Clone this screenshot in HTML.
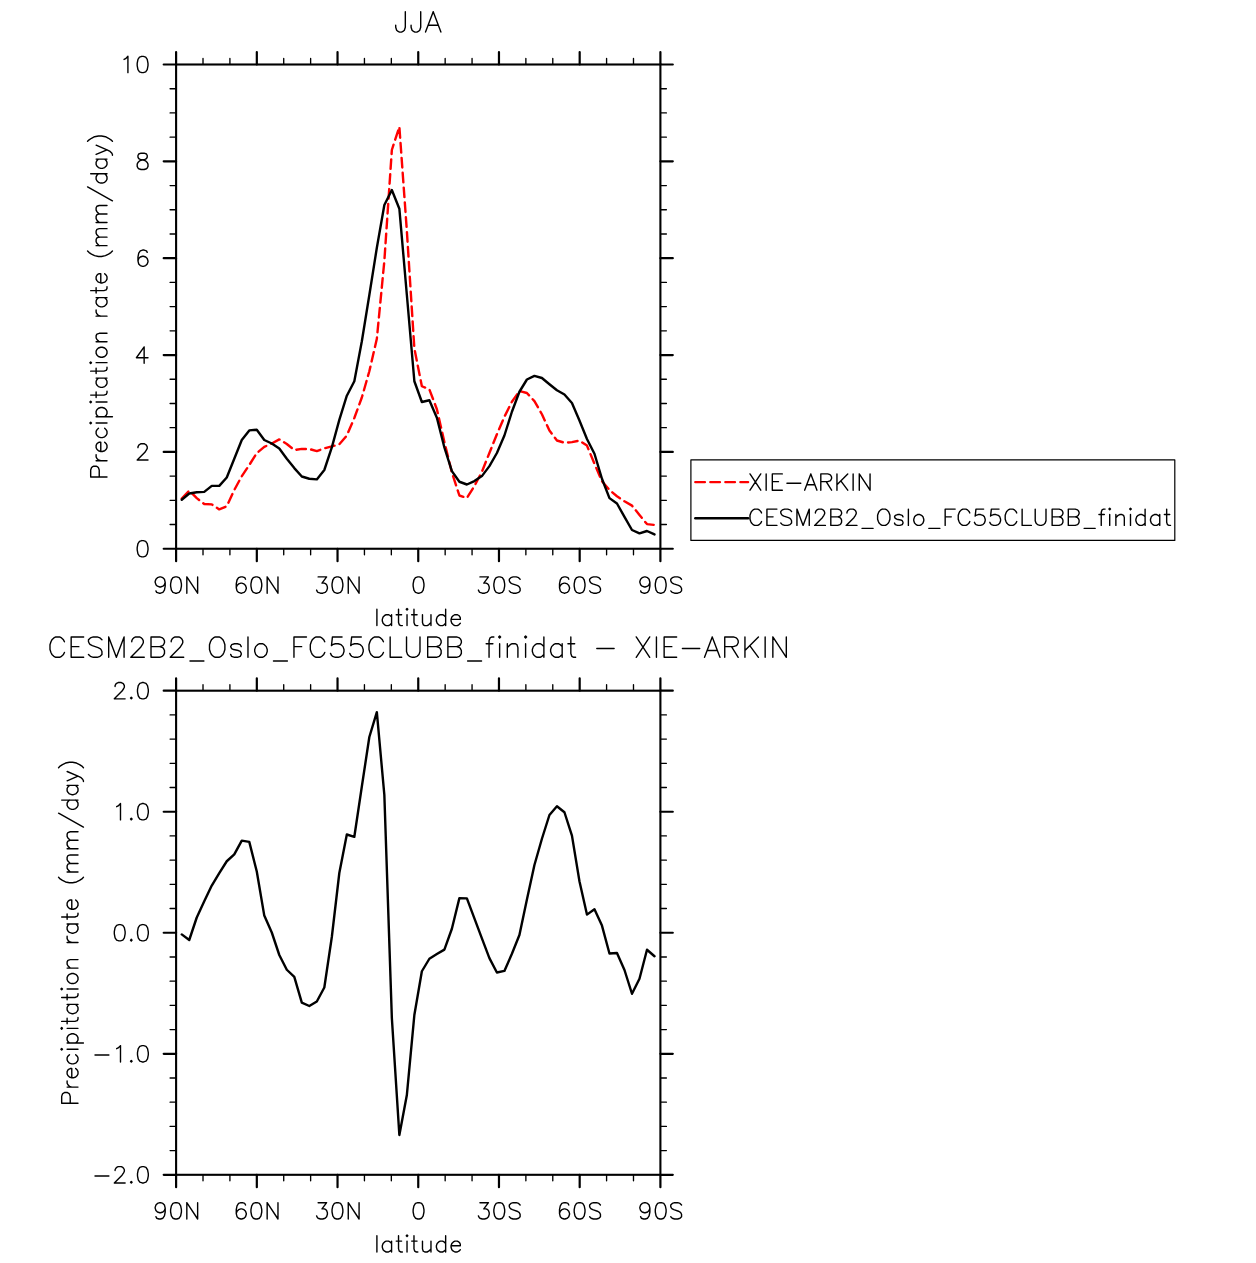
<!DOCTYPE html><html><head><meta charset="utf-8"><title>JJA</title><style>html,body{margin:0;padding:0;background:#fff;font-family:"Liberation Sans",sans-serif}svg{display:block}text{font-family:"Liberation Sans",sans-serif}.t{fill:none;stroke:#000;stroke-linecap:round;stroke-linejoin:round}</style></head><body>
<svg width="1256" height="1263" viewBox="0 0 1256 1263">
<rect width="1256" height="1263" fill="#fff"/>
<path d="M203.01 64.00V58.50M203.01 549.25V554.75M229.91 64.00V58.50M229.91 549.25V554.75M283.72 64.00V58.50M283.72 549.25V554.75M310.63 64.00V58.50M310.63 549.25V554.75M364.44 64.00V58.50M364.44 549.25V554.75M391.34 64.00V58.50M391.34 549.25V554.75M445.16 64.00V58.50M445.16 549.25V554.75M472.06 64.00V58.50M472.06 549.25V554.75M525.87 64.00V58.50M525.87 549.25V554.75M552.78 64.00V58.50M552.78 549.25V554.75M606.59 64.00V58.50M606.59 549.25V554.75M633.49 64.00V58.50M633.49 549.25V554.75M175.60 524.54H170.10M660.90 524.54H666.40M175.60 500.32H170.10M660.90 500.32H666.40M175.60 476.11H170.10M660.90 476.11H666.40M175.60 427.69H170.10M660.90 427.69H666.40M175.60 403.48H170.10M660.90 403.48H666.40M175.60 379.26H170.10M660.90 379.26H666.40M175.60 330.84H170.10M660.90 330.84H666.40M175.60 306.62H170.10M660.90 306.62H666.40M175.60 282.41H170.10M660.90 282.41H666.40M175.60 233.99H170.10M660.90 233.99H666.40M175.60 209.78H170.10M660.90 209.78H666.40M175.60 185.56H170.10M660.90 185.56H666.40M175.60 137.14H170.10M660.90 137.14H666.40M175.60 112.93H170.10M660.90 112.93H666.40M175.60 88.71H170.10M660.90 88.71H666.40" stroke="#000" stroke-width="1.35" stroke-linecap="round" fill="none"/>
<path d="M176.10 64.50V52.10M176.10 548.75V561.15M256.82 64.50V52.10M256.82 548.75V561.15M337.53 64.50V52.10M337.53 548.75V561.15M418.25 64.50V52.10M418.25 548.75V561.15M498.97 64.50V52.10M498.97 548.75V561.15M579.68 64.50V52.10M579.68 548.75V561.15M660.40 64.50V52.10M660.40 548.75V561.15M176.10 548.75H163.70M660.40 548.75H672.80M176.10 451.90H163.70M660.40 451.90H672.80M176.10 355.05H163.70M660.40 355.05H672.80M176.10 258.20H163.70M660.40 258.20H672.80M176.10 161.35H163.70M660.40 161.35H672.80M176.10 64.50H163.70M660.40 64.50H672.80" stroke="#000" stroke-width="2.2" stroke-linecap="round" fill="none"/>
<rect x="176.10" y="64.50" width="484.30" height="484.25" fill="none" stroke="#000" stroke-width="2.1"/>
<path d="M203.01 690.20V684.70M203.01 1175.30V1180.80M229.91 690.20V684.70M229.91 1175.30V1180.80M283.72 690.20V684.70M283.72 1175.30V1180.80M310.63 690.20V684.70M310.63 1175.30V1180.80M364.44 690.20V684.70M364.44 1175.30V1180.80M391.34 690.20V684.70M391.34 1175.30V1180.80M445.16 690.20V684.70M445.16 1175.30V1180.80M472.06 690.20V684.70M472.06 1175.30V1180.80M525.87 690.20V684.70M525.87 1175.30V1180.80M552.78 690.20V684.70M552.78 1175.30V1180.80M606.59 690.20V684.70M606.59 1175.30V1180.80M633.49 690.20V684.70M633.49 1175.30V1180.80M175.60 1150.60H170.10M660.90 1150.60H666.40M175.60 1126.39H170.10M660.90 1126.39H666.40M175.60 1102.18H170.10M660.90 1102.18H666.40M175.60 1077.98H170.10M660.90 1077.98H666.40M175.60 1029.57H170.10M660.90 1029.57H666.40M175.60 1005.37H170.10M660.90 1005.37H666.40M175.60 981.16H170.10M660.90 981.16H666.40M175.60 956.95H170.10M660.90 956.95H666.40M175.60 908.54H170.10M660.90 908.54H666.40M175.60 884.34H170.10M660.90 884.34H666.40M175.60 860.13H170.10M660.90 860.13H666.40M175.60 835.93H170.10M660.90 835.93H666.40M175.60 787.52H170.10M660.90 787.52H666.40M175.60 763.32H170.10M660.90 763.32H666.40M175.60 739.11H170.10M660.90 739.11H666.40M175.60 714.90H170.10M660.90 714.90H666.40" stroke="#000" stroke-width="1.35" stroke-linecap="round" fill="none"/>
<path d="M176.10 690.70V678.30M176.10 1174.80V1187.20M256.82 690.70V678.30M256.82 1174.80V1187.20M337.53 690.70V678.30M337.53 1174.80V1187.20M418.25 690.70V678.30M418.25 1174.80V1187.20M498.97 690.70V678.30M498.97 1174.80V1187.20M579.68 690.70V678.30M579.68 1174.80V1187.20M660.40 690.70V678.30M660.40 1174.80V1187.20M176.10 1174.80H163.70M660.40 1174.80H672.80M176.10 1053.78H163.70M660.40 1053.78H672.80M176.10 932.75H163.70M660.40 932.75H672.80M176.10 811.73H163.70M660.40 811.73H672.80M176.10 690.70H163.70M660.40 690.70H672.80" stroke="#000" stroke-width="2.2" stroke-linecap="round" fill="none"/>
<rect x="176.10" y="690.70" width="484.30" height="484.10" fill="none" stroke="#000" stroke-width="2.1"/>
<polyline points="181.74,498.50 189.24,490.60 196.75,498.10 204.25,504.00 211.76,504.40 219.26,509.40 226.76,506.25 234.27,490.00 241.77,476.25 249.28,465.00 256.78,453.10 264.28,446.90 271.79,443.50 279.29,439.40 286.80,444.00 294.30,450.00 301.80,448.90 309.31,449.00 316.81,451.10 324.32,448.30 331.82,446.40 339.32,444.25 346.83,435.50 354.33,418.00 361.84,397.50 369.34,371.25 376.84,338.75 384.35,261.00 391.85,150.00 399.36,126.80 406.86,231.00 414.36,348.50 421.87,386.25 429.37,389.40 436.88,409.20 444.38,442.00 451.88,472.50 459.39,495.50 466.89,498.00 474.40,486.00 481.90,471.75 489.40,453.00 496.91,434.25 504.41,416.75 511.92,401.75 519.42,391.10 526.92,393.00 534.43,401.10 541.93,414.25 549.44,430.50 556.94,440.50 564.44,442.75 571.95,442.10 579.45,440.60 586.96,445.60 594.46,463.75 601.96,481.25 609.47,490.00 616.97,496.25 624.48,501.25 631.98,505.60 639.48,515.00 646.99,524.10 654.49,525.00" fill="none" stroke="#f00" stroke-width="2.4" stroke-dasharray="9.6 5.3" stroke-dashoffset="0" stroke-linecap="round" stroke-linejoin="round"/>
<polyline points="181.74,499.75 189.24,493.50 196.75,492.25 204.25,491.90 211.76,485.90 219.26,485.90 226.76,477.50 234.27,458.75 241.77,440.00 249.28,430.40 256.78,429.75 264.28,440.00 271.79,443.50 279.29,448.50 286.80,458.75 294.30,468.10 301.80,476.50 309.31,478.75 316.81,479.40 324.32,470.00 331.82,447.40 339.32,419.90 346.83,395.70 354.33,381.25 361.84,341.25 369.34,295.00 376.84,247.80 384.35,205.00 391.85,190.00 399.36,208.75 406.86,295.00 414.36,381.25 421.87,402.00 429.37,400.25 436.88,417.70 444.38,447.50 451.88,471.10 459.39,481.75 466.89,484.50 474.40,481.10 481.90,476.10 489.40,466.10 496.91,453.00 504.41,435.50 511.92,411.75 519.42,391.75 526.92,379.50 534.43,375.90 541.93,378.00 549.44,384.25 556.94,390.25 564.44,394.50 571.95,403.00 579.45,420.50 586.96,439.00 594.46,453.75 601.96,478.75 609.47,498.10 616.97,503.50 624.48,516.90 631.98,530.00 639.48,533.40 646.99,531.00 654.49,534.40" fill="none" stroke="#000" stroke-width="2.4" stroke-linejoin="round" stroke-linecap="round"/>
<polyline points="181.74,934.40 189.24,940.00 196.75,917.50 204.25,901.25 211.76,885.60 219.26,873.10 226.76,861.25 234.27,854.40 241.77,840.60 249.28,841.90 256.78,871.50 264.28,915.60 271.79,932.50 279.29,955.00 286.80,969.75 294.30,976.80 301.80,1002.70 309.31,1006.00 316.81,1001.50 324.32,987.50 331.82,937.00 339.32,873.00 346.83,834.50 354.33,836.80 361.84,786.50 369.34,737.00 376.84,712.20 384.35,795.00 391.85,1018.00 399.36,1135.00 406.86,1095.00 414.36,1015.00 421.87,971.25 429.37,958.75 436.88,954.10 444.38,949.60 451.88,928.75 459.39,898.10 466.89,898.40 474.40,918.40 481.90,938.40 489.40,958.10 496.91,972.50 504.41,970.90 511.92,953.75 519.42,935.00 526.92,899.40 534.43,865.00 541.93,838.75 549.44,815.00 556.94,806.25 564.44,812.25 571.95,835.60 579.45,881.25 586.96,914.60 594.46,909.20 601.96,925.60 609.47,953.50 616.97,953.00 624.48,970.00 631.98,993.75 639.48,978.75 646.99,949.75 654.49,956.25" fill="none" stroke="#000" stroke-width="2.4" stroke-linejoin="round" stroke-linecap="round"/>
<rect x="690.9" y="459.8" width="483.9" height="80.6" fill="none" stroke="#000" stroke-width="1.2" stroke-linejoin="round"/>
<path d="M695.3 482.1H748.1" stroke="#f00" stroke-width="2.4" stroke-dasharray="9.6 5.43" stroke-linecap="round" fill="none"/>
<path d="M695.3 518.2H748.1" stroke="#000" stroke-width="2.4" stroke-linecap="round" fill="none"/>
<path class="t" d="M405.32 11.73L405.32 27.25L404.36 30.16L403.40 31.13L401.47 32.10L399.55 32.10L397.62 31.13L396.66 30.16L395.70 27.25L395.70 25.31M420.71 11.73L420.71 27.25L419.75 30.16L418.79 31.13L416.86 32.10L414.94 32.10L413.02 31.13L412.05 30.16L411.09 27.25L411.09 25.31M433.22 11.73L425.52 32.10M433.22 11.73L440.91 32.10M428.41 25.31L438.03 25.31" stroke-width="1.4"/>
<path class="t" d="M64.43 641.78L63.47 639.84L61.54 637.90L59.62 636.93L55.77 636.93L53.85 637.90L51.92 639.84L50.96 641.78L50.00 644.69L50.00 649.54L50.96 652.45L51.92 654.39L53.85 656.33L55.77 657.30L59.62 657.30L61.54 656.33L63.47 654.39L64.43 652.45M71.16 636.93L71.16 657.30M71.16 636.93L83.67 636.93M71.16 646.63L78.86 646.63M71.16 657.30L83.67 657.30M101.95 639.84L100.02 637.90L97.14 636.93L93.29 636.93L90.40 637.90L88.48 639.84L88.48 641.78L89.44 643.72L90.40 644.69L92.33 645.66L98.10 647.60L100.02 648.57L100.99 649.54L101.95 651.48L101.95 654.39L100.02 656.33L97.14 657.30L93.29 657.30L90.40 656.33L88.48 654.39M108.68 636.93L108.68 657.30M108.68 636.93L116.38 657.30M124.07 636.93L116.38 657.30M124.07 636.93L124.07 657.30M131.77 641.78L131.77 640.81L132.73 638.87L133.69 637.90L135.62 636.93L139.47 636.93L141.39 637.90L142.35 638.87L143.31 640.81L143.31 642.75L142.35 644.69L140.43 647.60L130.81 657.30L144.28 657.30M151.01 636.93L151.01 657.30M151.01 636.93L159.67 636.93L162.55 637.90L163.52 638.87L164.48 640.81L164.48 642.75L163.52 644.69L162.55 645.66L159.67 646.63M151.01 646.63L159.67 646.63L162.55 647.60L163.52 648.57L164.48 650.51L164.48 653.42L163.52 655.36L162.55 656.33L159.67 657.30L151.01 657.30M171.21 641.78L171.21 640.81L172.17 638.87L173.14 637.90L175.06 636.93L178.91 636.93L180.83 637.90L181.79 638.87L182.76 640.81L182.76 642.75L181.79 644.69L179.87 647.60L170.25 657.30L183.72 657.30M189.97 660.99L203.92 660.99M215.27 636.93L213.35 637.90L211.42 639.84L210.46 641.78L209.50 644.69L209.50 649.54L210.46 652.45L211.42 654.39L213.35 656.33L215.27 657.30L219.12 657.30L221.04 656.33L222.97 654.39L223.93 652.45L224.89 649.54L224.89 644.69L223.93 641.78L222.97 639.84L221.04 637.90L219.12 636.93L215.27 636.93M241.25 646.63L240.28 644.69L237.40 643.72L234.51 643.72L231.63 644.69L230.66 646.63L231.63 648.57L233.55 649.54L238.36 650.51L240.28 651.48L241.25 653.42L241.25 654.39L240.28 656.33L237.40 657.30L234.51 657.30L231.63 656.33L230.66 654.39M247.98 636.93L247.98 657.30M259.52 643.72L257.60 644.69L255.68 646.63L254.71 649.54L254.71 651.48L255.68 654.39L257.60 656.33L259.52 657.30L262.41 657.30L264.33 656.33L266.26 654.39L267.22 651.48L267.22 649.54L266.26 646.63L264.33 644.69L262.41 643.72L259.52 643.72M273.47 660.99L287.42 660.99M293.96 636.93L293.96 657.30M293.96 636.93L306.47 636.93M293.96 646.63L301.66 646.63M324.75 641.78L323.79 639.84L321.86 637.90L319.94 636.93L316.09 636.93L314.17 637.90L312.24 639.84L311.28 641.78L310.32 644.69L310.32 649.54L311.28 652.45L312.24 654.39L314.17 656.33L316.09 657.30L319.94 657.30L321.86 656.33L323.79 654.39L324.75 652.45M342.06 636.93L332.44 636.93L331.48 645.66L332.44 644.69L335.33 643.72L338.22 643.72L341.10 644.69L343.03 646.63L343.99 649.54L343.99 651.48L343.03 654.39L341.10 656.33L338.22 657.30L335.33 657.30L332.44 656.33L331.48 655.36L330.52 653.42M361.30 636.93L351.68 636.93L350.72 645.66L351.68 644.69L354.57 643.72L357.46 643.72L360.34 644.69L362.27 646.63L363.23 649.54L363.23 651.48L362.27 654.39L360.34 656.33L357.46 657.30L354.57 657.30L351.68 656.33L350.72 655.36L349.76 653.42M383.43 641.78L382.47 639.84L380.54 637.90L378.62 636.93L374.77 636.93L372.85 637.90L370.92 639.84L369.96 641.78L369.00 644.69L369.00 649.54L369.96 652.45L370.92 654.39L372.85 656.33L374.77 657.30L378.62 657.30L380.54 656.33L382.47 654.39L383.43 652.45M390.16 636.93L390.16 657.30M390.16 657.30L401.71 657.30M406.52 636.93L406.52 651.48L407.48 654.39L409.40 656.33L412.29 657.30L414.21 657.30L417.10 656.33L419.02 654.39L419.99 651.48L419.99 636.93M427.68 636.93L427.68 657.30M427.68 636.93L436.34 636.93L439.23 637.90L440.19 638.87L441.15 640.81L441.15 642.75L440.19 644.69L439.23 645.66L436.34 646.63M427.68 646.63L436.34 646.63L439.23 647.60L440.19 648.57L441.15 650.51L441.15 653.42L440.19 655.36L439.23 656.33L436.34 657.30L427.68 657.30M447.88 636.93L447.88 657.30M447.88 636.93L456.54 636.93L459.43 637.90L460.39 638.87L461.35 640.81L461.35 642.75L460.39 644.69L459.43 645.66L456.54 646.63M447.88 646.63L456.54 646.63L459.43 647.60L460.39 648.57L461.35 650.51L461.35 653.42L460.39 655.36L459.43 656.33L456.54 657.30L447.88 657.30M467.60 660.99L481.55 660.99M493.87 636.93L491.94 636.93L490.02 637.90L489.06 640.81L489.06 657.30M486.17 643.72L492.90 643.72M498.68 636.93L499.64 637.90L500.60 636.93L499.64 635.96L498.68 636.93M499.64 643.72L499.64 657.30M507.33 643.72L507.33 657.30M507.33 647.60L510.22 644.69L512.14 643.72L515.03 643.72L516.95 644.69L517.92 647.60L517.92 657.30M524.65 636.93L525.61 637.90L526.57 636.93L525.61 635.96L524.65 636.93M525.61 643.72L525.61 657.30M543.89 636.93L543.89 657.30M543.89 646.63L541.97 644.69L540.04 643.72L537.16 643.72L535.23 644.69L533.31 646.63L532.35 649.54L532.35 651.48L533.31 654.39L535.23 656.33L537.16 657.30L540.04 657.30L541.97 656.33L543.89 654.39M562.17 643.72L562.17 657.30M562.17 646.63L560.24 644.69L558.32 643.72L555.43 643.72L553.51 644.69L551.59 646.63L550.62 649.54L550.62 651.48L551.59 654.39L553.51 656.33L555.43 657.30L558.32 657.30L560.24 656.33L562.17 654.39M570.83 636.93L570.83 653.42L571.79 656.33L573.71 657.30L575.64 657.30M567.94 643.72L574.67 643.72M596.80 648.57L614.12 648.57M636.24 636.93L649.71 657.30M649.71 636.93L636.24 657.30M656.44 636.93L656.44 657.30M664.14 636.93L664.14 657.30M664.14 636.93L676.65 636.93M664.14 646.63L671.84 646.63M664.14 657.30L676.65 657.30M682.42 648.57L699.73 648.57M712.24 636.93L704.54 657.30M712.24 636.93L719.94 657.30M707.43 650.51L717.05 650.51M724.75 636.93L724.75 657.30M724.75 636.93L733.40 636.93L736.29 637.90L737.25 638.87L738.21 640.81L738.21 642.75L737.25 644.69L736.29 645.66L733.40 646.63L724.75 646.63M731.48 646.63L738.21 657.30M744.95 636.93L744.95 657.30M758.42 636.93L744.95 650.51M749.76 645.66L758.42 657.30M765.15 636.93L765.15 657.30M772.85 636.93L772.85 657.30M772.85 636.93L786.31 657.30M786.31 636.93L786.31 657.30" stroke-width="1.4"/>
<path class="t" d="M750.00 473.90L760.77 490.20M760.77 473.90L750.00 490.20M766.16 473.90L766.16 490.20M772.32 473.90L772.32 490.20M772.32 473.90L782.32 473.90M772.32 481.66L778.48 481.66M772.32 490.20L782.32 490.20M786.94 483.22L800.79 483.22M810.80 473.90L804.64 490.20M810.80 473.90L816.96 490.20M806.95 484.77L814.65 484.77M820.80 473.90L820.80 490.20M820.80 473.90L827.73 473.90L830.04 474.68L830.81 475.46L831.58 477.01L831.58 478.56L830.81 480.11L830.04 480.89L827.73 481.66L820.80 481.66M826.19 481.66L831.58 490.20M836.96 473.90L836.96 490.20M847.74 473.90L836.96 484.77M840.81 480.89L847.74 490.20M853.13 473.90L853.13 490.20M859.28 473.90L859.28 490.20M859.28 473.90L870.06 490.20M870.06 473.90L870.06 490.20" stroke-width="1.4"/>
<path class="t" d="M761.54 512.98L760.77 511.43L759.24 509.88L757.70 509.10L754.62 509.10L753.08 509.88L751.54 511.43L750.77 512.98L750.00 515.31L750.00 519.19L750.77 521.52L751.54 523.07L753.08 524.62L754.62 525.40L757.70 525.40L759.24 524.62L760.77 523.07L761.54 521.52M766.93 509.10L766.93 525.40M766.93 509.10L776.94 509.10M766.93 516.86L773.09 516.86M766.93 525.40L776.94 525.40M791.56 511.43L790.02 509.88L787.71 509.10L784.63 509.10L782.32 509.88L780.78 511.43L780.78 512.98L781.55 514.54L782.32 515.31L783.86 516.09L788.48 517.64L790.02 518.42L790.79 519.19L791.56 520.74L791.56 523.07L790.02 524.62L787.71 525.40L784.63 525.40L782.32 524.62L780.78 523.07M796.95 509.10L796.95 525.40M796.95 509.10L803.10 525.40M809.26 509.10L803.10 525.40M809.26 509.10L809.26 525.40M815.42 512.98L815.42 512.21L816.19 510.66L816.96 509.88L818.49 509.10L821.57 509.10L823.11 509.88L823.88 510.66L824.65 512.21L824.65 513.76L823.88 515.31L822.34 517.64L814.65 525.40L825.42 525.40M830.81 509.10L830.81 525.40M830.81 509.10L837.73 509.10L840.04 509.88L840.81 510.66L841.58 512.21L841.58 513.76L840.81 515.31L840.04 516.09L837.73 516.86M830.81 516.86L837.73 516.86L840.04 517.64L840.81 518.42L841.58 519.97L841.58 522.30L840.81 523.85L840.04 524.62L837.73 525.40L830.81 525.40M846.97 512.98L846.97 512.21L847.74 510.66L848.51 509.88L850.05 509.10L853.13 509.10L854.67 509.88L855.44 510.66L856.20 512.21L856.20 513.76L855.44 515.31L853.90 517.64L846.20 525.40L856.97 525.40M861.98 528.35L873.14 528.35M882.22 509.10L880.68 509.88L879.14 511.43L878.37 512.98L877.60 515.31L877.60 519.19L878.37 521.52L879.14 523.07L880.68 524.62L882.22 525.40L885.30 525.40L886.83 524.62L888.37 523.07L889.14 521.52L889.91 519.19L889.91 515.31L889.14 512.98L888.37 511.43L886.83 509.88L885.30 509.10L882.22 509.10M903.00 516.86L902.23 515.31L899.92 514.54L897.61 514.54L895.30 515.31L894.53 516.86L895.30 518.42L896.84 519.19L900.69 519.97L902.23 520.74L903.00 522.30L903.00 523.07L902.23 524.62L899.92 525.40L897.61 525.40L895.30 524.62L894.53 523.07M908.38 509.10L908.38 525.40M917.62 514.54L916.08 515.31L914.54 516.86L913.77 519.19L913.77 520.74L914.54 523.07L916.08 524.62L917.62 525.40L919.93 525.40L921.47 524.62L923.01 523.07L923.78 520.74L923.78 519.19L923.01 516.86L921.47 515.31L919.93 514.54L917.62 514.54M928.78 528.35L939.94 528.35M945.17 509.10L945.17 525.40M945.17 509.10L955.18 509.10M945.17 516.86L951.33 516.86M969.80 512.98L969.03 511.43L967.49 509.88L965.95 509.10L962.87 509.10L961.33 509.88L959.79 511.43L959.02 512.98L958.25 515.31L958.25 519.19L959.02 521.52L959.79 523.07L961.33 524.62L962.87 525.40L965.95 525.40L967.49 524.62L969.03 523.07L969.80 521.52M983.65 509.10L975.95 509.10L975.18 516.09L975.95 515.31L978.26 514.54L980.57 514.54L982.88 515.31L984.42 516.86L985.19 519.19L985.19 520.74L984.42 523.07L982.88 524.62L980.57 525.40L978.26 525.40L975.95 524.62L975.18 523.85L974.42 522.30M999.04 509.10L991.35 509.10L990.58 516.09L991.35 515.31L993.66 514.54L995.96 514.54L998.27 515.31L999.81 516.86L1000.58 519.19L1000.58 520.74L999.81 523.07L998.27 524.62L995.96 525.40L993.66 525.40L991.35 524.62L990.58 523.85L989.81 522.30M1016.74 512.98L1015.97 511.43L1014.43 509.88L1012.90 509.10L1009.82 509.10L1008.28 509.88L1006.74 511.43L1005.97 512.98L1005.20 515.31L1005.20 519.19L1005.97 521.52L1006.74 523.07L1008.28 524.62L1009.82 525.40L1012.90 525.40L1014.43 524.62L1015.97 523.07L1016.74 521.52M1022.13 509.10L1022.13 525.40M1022.13 525.40L1031.37 525.40M1035.21 509.10L1035.21 520.74L1035.98 523.07L1037.52 524.62L1039.83 525.40L1041.37 525.40L1043.68 524.62L1045.22 523.07L1045.99 520.74L1045.99 509.10M1052.14 509.10L1052.14 525.40M1052.14 509.10L1059.07 509.10L1061.38 509.88L1062.15 510.66L1062.92 512.21L1062.92 513.76L1062.15 515.31L1061.38 516.09L1059.07 516.86M1052.14 516.86L1059.07 516.86L1061.38 517.64L1062.15 518.42L1062.92 519.97L1062.92 522.30L1062.15 523.85L1061.38 524.62L1059.07 525.40L1052.14 525.40M1068.31 509.10L1068.31 525.40M1068.31 509.10L1075.23 509.10L1077.54 509.88L1078.31 510.66L1079.08 512.21L1079.08 513.76L1078.31 515.31L1077.54 516.09L1075.23 516.86M1068.31 516.86L1075.23 516.86L1077.54 517.64L1078.31 518.42L1079.08 519.97L1079.08 522.30L1078.31 523.85L1077.54 524.62L1075.23 525.40L1068.31 525.40M1084.08 528.35L1095.24 528.35M1105.09 509.10L1103.55 509.10L1102.02 509.88L1101.25 512.21L1101.25 525.40M1098.94 514.54L1104.32 514.54M1108.94 509.10L1109.71 509.88L1110.48 509.10L1109.71 508.33L1108.94 509.10M1109.71 514.54L1109.71 525.40M1115.87 514.54L1115.87 525.40M1115.87 517.64L1118.18 515.31L1119.72 514.54L1122.02 514.54L1123.56 515.31L1124.33 517.64L1124.33 525.40M1129.72 509.10L1130.49 509.88L1131.26 509.10L1130.49 508.33L1129.72 509.10M1130.49 514.54L1130.49 525.40M1145.11 509.10L1145.11 525.40M1145.11 516.86L1143.57 515.31L1142.03 514.54L1139.73 514.54L1138.19 515.31L1136.65 516.86L1135.88 519.19L1135.88 520.74L1136.65 523.07L1138.19 524.62L1139.73 525.40L1142.03 525.40L1143.57 524.62L1145.11 523.07M1159.74 514.54L1159.74 525.40M1159.74 516.86L1158.20 515.31L1156.66 514.54L1154.35 514.54L1152.81 515.31L1151.27 516.86L1150.50 519.19L1150.50 520.74L1151.27 523.07L1152.81 524.62L1154.35 525.40L1156.66 525.40L1158.20 524.62L1159.74 523.07M1166.66 509.10L1166.66 522.30L1167.43 524.62L1168.97 525.40L1170.51 525.40M1164.35 514.54L1169.74 514.54" stroke-width="1.4"/>
<path class="t" d="M141.82 540.59L139.50 541.37L137.96 543.70L137.19 547.58L137.19 549.92L137.96 553.80L139.50 556.13L141.82 556.91L143.37 556.91L145.68 556.13L147.23 553.80L148.00 549.92L148.00 547.58L147.23 543.70L145.68 541.37L143.37 540.59L141.82 540.59" stroke-width="1.4"/>
<path class="t" d="M137.96 447.63L137.96 446.85L138.73 445.30L139.50 444.52L141.05 443.74L144.14 443.74L145.68 444.52L146.46 445.30L147.23 446.85L147.23 448.40L146.46 449.96L144.91 452.29L137.19 460.06L148.00 460.06" stroke-width="1.4"/>
<path class="t" d="M144.14 346.89L136.41 357.77L148.00 357.77M144.14 346.89L144.14 363.21" stroke-width="1.4"/>
<path class="t" d="M147.23 252.37L146.46 250.82L144.14 250.04L142.59 250.04L140.28 250.82L138.73 253.15L137.96 257.03L137.96 260.92L138.73 264.03L140.28 265.58L142.59 266.36L143.37 266.36L145.68 265.58L147.23 264.03L148.00 261.70L148.00 260.92L147.23 258.59L145.68 257.03L143.37 256.26L142.59 256.26L140.28 257.03L138.73 258.59L137.96 260.92" stroke-width="1.4"/>
<path class="t" d="M141.05 153.19L138.73 153.97L137.96 155.52L137.96 157.08L138.73 158.63L140.28 159.41L143.37 160.18L145.68 160.96L147.23 162.52L148.00 164.07L148.00 166.40L147.23 167.95L146.46 168.73L144.14 169.51L141.05 169.51L138.73 168.73L137.96 167.95L137.19 166.40L137.19 164.07L137.96 162.52L139.50 160.96L141.82 160.18L144.91 159.41L146.46 158.63L147.23 157.08L147.23 155.52L146.46 153.97L144.14 153.19L141.05 153.19" stroke-width="1.4"/>
<path class="t" d="M124.05 59.45L125.60 58.67L127.91 56.34L127.91 72.66M141.82 56.34L139.50 57.12L137.96 59.45L137.19 63.33L137.19 65.67L137.96 69.55L139.50 71.88L141.82 72.66L143.37 72.66L145.68 71.88L147.23 69.55L148.00 65.67L148.00 63.33L147.23 59.45L145.68 57.12L143.37 56.34L141.82 56.34" stroke-width="1.4"/>
<path class="t" d="M165.20 582.32L164.43 584.65L162.88 586.21L160.56 586.98L159.79 586.98L157.47 586.21L155.93 584.65L155.16 582.32L155.16 581.55L155.93 579.21L157.47 577.66L159.79 576.88L160.56 576.88L162.88 577.66L164.43 579.21L165.20 582.32L165.20 586.21L164.43 590.09L162.88 592.42L160.56 593.20L159.02 593.20L156.70 592.42L155.93 590.87M175.24 576.88L172.92 577.66L171.38 579.99L170.61 583.88L170.61 586.21L171.38 590.09L172.92 592.42L175.24 593.20L176.79 593.20L179.10 592.42L180.65 590.09L181.42 586.21L181.42 583.88L180.65 579.99L179.10 577.66L176.79 576.88L175.24 576.88M186.83 576.88L186.83 593.20M186.83 576.88L197.64 593.20M197.64 576.88L197.64 593.20" stroke-width="1.4"/>
<path class="t" d="M165.20 1208.12L164.43 1210.45L162.88 1212.01L160.56 1212.78L159.79 1212.78L157.47 1212.01L155.93 1210.45L155.16 1208.12L155.16 1207.35L155.93 1205.01L157.47 1203.46L159.79 1202.68L160.56 1202.68L162.88 1203.46L164.43 1205.01L165.20 1208.12L165.20 1212.01L164.43 1215.89L162.88 1218.22L160.56 1219.00L159.02 1219.00L156.70 1218.22L155.93 1216.67M175.24 1202.68L172.92 1203.46L171.38 1205.79L170.61 1209.68L170.61 1212.01L171.38 1215.89L172.92 1218.22L175.24 1219.00L176.79 1219.00L179.10 1218.22L180.65 1215.89L181.42 1212.01L181.42 1209.68L180.65 1205.79L179.10 1203.46L176.79 1202.68L175.24 1202.68M186.83 1202.68L186.83 1219.00M186.83 1202.68L197.64 1219.00M197.64 1202.68L197.64 1219.00" stroke-width="1.4"/>
<path class="t" d="M245.53 579.21L244.76 577.66L242.44 576.88L240.89 576.88L238.58 577.66L237.03 579.99L236.26 583.88L236.26 587.76L237.03 590.87L238.58 592.42L240.89 593.20L241.67 593.20L243.98 592.42L245.53 590.87L246.30 588.54L246.30 587.76L245.53 585.43L243.98 583.88L241.67 583.10L240.89 583.10L238.58 583.88L237.03 585.43L236.26 587.76M255.57 576.88L253.25 577.66L251.71 579.99L250.94 583.88L250.94 586.21L251.71 590.09L253.25 592.42L255.57 593.20L257.12 593.20L259.43 592.42L260.98 590.09L261.75 586.21L261.75 583.88L260.98 579.99L259.43 577.66L257.12 576.88L255.57 576.88M267.16 576.88L267.16 593.20M267.16 576.88L277.97 593.20M277.97 576.88L277.97 593.20" stroke-width="1.4"/>
<path class="t" d="M245.53 1205.01L244.76 1203.46L242.44 1202.68L240.89 1202.68L238.58 1203.46L237.03 1205.79L236.26 1209.68L236.26 1213.56L237.03 1216.67L238.58 1218.22L240.89 1219.00L241.67 1219.00L243.98 1218.22L245.53 1216.67L246.30 1214.34L246.30 1213.56L245.53 1211.23L243.98 1209.68L241.67 1208.90L240.89 1208.90L238.58 1209.68L237.03 1211.23L236.26 1213.56M255.57 1202.68L253.25 1203.46L251.71 1205.79L250.94 1209.68L250.94 1212.01L251.71 1215.89L253.25 1218.22L255.57 1219.00L257.12 1219.00L259.43 1218.22L260.98 1215.89L261.75 1212.01L261.75 1209.68L260.98 1205.79L259.43 1203.46L257.12 1202.68L255.57 1202.68M267.16 1202.68L267.16 1219.00M267.16 1202.68L277.97 1219.00M277.97 1202.68L277.97 1219.00" stroke-width="1.4"/>
<path class="t" d="M318.13 576.88L326.63 576.88L322.00 583.10L324.31 583.10L325.86 583.88L326.63 584.65L327.40 586.98L327.40 588.54L326.63 590.87L325.09 592.42L322.77 593.20L320.45 593.20L318.13 592.42L317.36 591.65L316.59 590.09M336.67 576.88L334.36 577.66L332.81 579.99L332.04 583.88L332.04 586.21L332.81 590.09L334.36 592.42L336.67 593.20L338.22 593.20L340.54 592.42L342.08 590.09L342.85 586.21L342.85 583.88L342.08 579.99L340.54 577.66L338.22 576.88L336.67 576.88M348.26 576.88L348.26 593.20M348.26 576.88L359.08 593.20M359.08 576.88L359.08 593.20" stroke-width="1.4"/>
<path class="t" d="M318.13 1202.68L326.63 1202.68L322.00 1208.90L324.31 1208.90L325.86 1209.68L326.63 1210.45L327.40 1212.78L327.40 1214.34L326.63 1216.67L325.09 1218.22L322.77 1219.00L320.45 1219.00L318.13 1218.22L317.36 1217.45L316.59 1215.89M336.67 1202.68L334.36 1203.46L332.81 1205.79L332.04 1209.68L332.04 1212.01L332.81 1215.89L334.36 1218.22L336.67 1219.00L338.22 1219.00L340.54 1218.22L342.08 1215.89L342.85 1212.01L342.85 1209.68L342.08 1205.79L340.54 1203.46L338.22 1202.68L336.67 1202.68M348.26 1202.68L348.26 1219.00M348.26 1202.68L359.08 1219.00M359.08 1202.68L359.08 1219.00" stroke-width="1.4"/>
<path class="t" d="M417.78 576.88L415.46 577.66L413.92 579.99L413.14 583.88L413.14 586.21L413.92 590.09L415.46 592.42L417.78 593.20L419.32 593.20L421.64 592.42L423.19 590.09L423.96 586.21L423.96 583.88L423.19 579.99L421.64 577.66L419.32 576.88L417.78 576.88" stroke-width="1.4"/>
<path class="t" d="M417.78 1202.68L415.46 1203.46L413.92 1205.79L413.14 1209.68L413.14 1212.01L413.92 1215.89L415.46 1218.22L417.78 1219.00L419.32 1219.00L421.64 1218.22L423.19 1215.89L423.96 1212.01L423.96 1209.68L423.19 1205.79L421.64 1203.46L419.32 1202.68L417.78 1202.68" stroke-width="1.4"/>
<path class="t" d="M479.95 576.88L488.45 576.88L483.82 583.10L486.13 583.10L487.68 583.88L488.45 584.65L489.22 586.98L489.22 588.54L488.45 590.87L486.91 592.42L484.59 593.20L482.27 593.20L479.95 592.42L479.18 591.65L478.41 590.09M498.49 576.88L496.18 577.66L494.63 579.99L493.86 583.88L493.86 586.21L494.63 590.09L496.18 592.42L498.49 593.20L500.04 593.20L502.36 592.42L503.90 590.09L504.67 586.21L504.67 583.88L503.90 579.99L502.36 577.66L500.04 576.88L498.49 576.88M520.12 579.21L518.58 577.66L516.26 576.88L513.17 576.88L510.85 577.66L509.31 579.21L509.31 580.77L510.08 582.32L510.85 583.10L512.40 583.88L517.03 585.43L518.58 586.21L519.35 586.98L520.12 588.54L520.12 590.87L518.58 592.42L516.26 593.20L513.17 593.20L510.85 592.42L509.31 590.87" stroke-width="1.4"/>
<path class="t" d="M479.95 1202.68L488.45 1202.68L483.82 1208.90L486.13 1208.90L487.68 1209.68L488.45 1210.45L489.22 1212.78L489.22 1214.34L488.45 1216.67L486.91 1218.22L484.59 1219.00L482.27 1219.00L479.95 1218.22L479.18 1217.45L478.41 1215.89M498.49 1202.68L496.18 1203.46L494.63 1205.79L493.86 1209.68L493.86 1212.01L494.63 1215.89L496.18 1218.22L498.49 1219.00L500.04 1219.00L502.36 1218.22L503.90 1215.89L504.67 1212.01L504.67 1209.68L503.90 1205.79L502.36 1203.46L500.04 1202.68L498.49 1202.68M520.12 1205.01L518.58 1203.46L516.26 1202.68L513.17 1202.68L510.85 1203.46L509.31 1205.01L509.31 1206.57L510.08 1208.12L510.85 1208.90L512.40 1209.68L517.03 1211.23L518.58 1212.01L519.35 1212.78L520.12 1214.34L520.12 1216.67L518.58 1218.22L516.26 1219.00L513.17 1219.00L510.85 1218.22L509.31 1216.67" stroke-width="1.4"/>
<path class="t" d="M568.78 579.21L568.01 577.66L565.69 576.88L564.15 576.88L561.83 577.66L560.28 579.99L559.51 583.88L559.51 587.76L560.28 590.87L561.83 592.42L564.15 593.20L564.92 593.20L567.24 592.42L568.78 590.87L569.55 588.54L569.55 587.76L568.78 585.43L567.24 583.88L564.92 583.10L564.15 583.10L561.83 583.88L560.28 585.43L559.51 587.76M578.82 576.88L576.51 577.66L574.96 579.99L574.19 583.88L574.19 586.21L574.96 590.09L576.51 592.42L578.82 593.20L580.37 593.20L582.69 592.42L584.23 590.09L585.00 586.21L585.00 583.88L584.23 579.99L582.69 577.66L580.37 576.88L578.82 576.88M600.45 579.21L598.91 577.66L596.59 576.88L593.50 576.88L591.18 577.66L589.64 579.21L589.64 580.77L590.41 582.32L591.18 583.10L592.73 583.88L597.36 585.43L598.91 586.21L599.68 586.98L600.45 588.54L600.45 590.87L598.91 592.42L596.59 593.20L593.50 593.20L591.18 592.42L589.64 590.87" stroke-width="1.4"/>
<path class="t" d="M568.78 1205.01L568.01 1203.46L565.69 1202.68L564.15 1202.68L561.83 1203.46L560.28 1205.79L559.51 1209.68L559.51 1213.56L560.28 1216.67L561.83 1218.22L564.15 1219.00L564.92 1219.00L567.24 1218.22L568.78 1216.67L569.55 1214.34L569.55 1213.56L568.78 1211.23L567.24 1209.68L564.92 1208.90L564.15 1208.90L561.83 1209.68L560.28 1211.23L559.51 1213.56M578.82 1202.68L576.51 1203.46L574.96 1205.79L574.19 1209.68L574.19 1212.01L574.96 1215.89L576.51 1218.22L578.82 1219.00L580.37 1219.00L582.69 1218.22L584.23 1215.89L585.00 1212.01L585.00 1209.68L584.23 1205.79L582.69 1203.46L580.37 1202.68L578.82 1202.68M600.45 1205.01L598.91 1203.46L596.59 1202.68L593.50 1202.68L591.18 1203.46L589.64 1205.01L589.64 1206.57L590.41 1208.12L591.18 1208.90L592.73 1209.68L597.36 1211.23L598.91 1212.01L599.68 1212.78L600.45 1214.34L600.45 1216.67L598.91 1218.22L596.59 1219.00L593.50 1219.00L591.18 1218.22L589.64 1216.67" stroke-width="1.4"/>
<path class="t" d="M649.88 582.32L649.11 584.65L647.57 586.21L645.25 586.98L644.48 586.98L642.16 586.21L640.61 584.65L639.84 582.32L639.84 581.55L640.61 579.21L642.16 577.66L644.48 576.88L645.25 576.88L647.57 577.66L649.11 579.21L649.88 582.32L649.88 586.21L649.11 590.09L647.57 592.42L645.25 593.20L643.70 593.20L641.39 592.42L640.61 590.87M659.93 576.88L657.61 577.66L656.06 579.99L655.29 583.88L655.29 586.21L656.06 590.09L657.61 592.42L659.93 593.20L661.47 593.20L663.79 592.42L665.33 590.09L666.11 586.21L666.11 583.88L665.33 579.99L663.79 577.66L661.47 576.88L659.93 576.88M681.56 579.21L680.01 577.66L677.69 576.88L674.60 576.88L672.29 577.66L670.74 579.21L670.74 580.77L671.51 582.32L672.29 583.10L673.83 583.88L678.47 585.43L680.01 586.21L680.78 586.98L681.56 588.54L681.56 590.87L680.01 592.42L677.69 593.20L674.60 593.20L672.29 592.42L670.74 590.87" stroke-width="1.4"/>
<path class="t" d="M649.88 1208.12L649.11 1210.45L647.57 1212.01L645.25 1212.78L644.48 1212.78L642.16 1212.01L640.61 1210.45L639.84 1208.12L639.84 1207.35L640.61 1205.01L642.16 1203.46L644.48 1202.68L645.25 1202.68L647.57 1203.46L649.11 1205.01L649.88 1208.12L649.88 1212.01L649.11 1215.89L647.57 1218.22L645.25 1219.00L643.70 1219.00L641.39 1218.22L640.61 1216.67M659.93 1202.68L657.61 1203.46L656.06 1205.79L655.29 1209.68L655.29 1212.01L656.06 1215.89L657.61 1218.22L659.93 1219.00L661.47 1219.00L663.79 1218.22L665.33 1215.89L666.11 1212.01L666.11 1209.68L665.33 1205.79L663.79 1203.46L661.47 1202.68L659.93 1202.68M681.56 1205.01L680.01 1203.46L677.69 1202.68L674.60 1202.68L672.29 1203.46L670.74 1205.01L670.74 1206.57L671.51 1208.12L672.29 1208.90L673.83 1209.68L678.47 1211.23L680.01 1212.01L680.78 1212.78L681.56 1214.34L681.56 1216.67L680.01 1218.22L677.69 1219.00L674.60 1219.00L672.29 1218.22L670.74 1216.67" stroke-width="1.4"/>
<path class="t" d="M376.90 609.28L376.90 625.60M391.58 614.72L391.58 625.60M391.58 617.05L390.03 615.50L388.49 614.72L386.17 614.72L384.62 615.50L383.08 617.05L382.31 619.38L382.31 620.94L383.08 623.27L384.62 624.82L386.17 625.60L388.49 625.60L390.03 624.82L391.58 623.27M398.53 609.28L398.53 622.49L399.30 624.82L400.85 625.60L402.39 625.60M396.21 614.72L401.62 614.72M406.25 609.28L407.03 610.06L407.80 609.28L407.03 608.51L406.25 609.28M407.03 614.72L407.03 625.60M413.98 609.28L413.98 622.49L414.75 624.82L416.30 625.60L417.84 625.60M411.66 614.72L417.07 614.72M422.48 614.72L422.48 622.49L423.25 624.82L424.79 625.60L427.11 625.60L428.66 624.82L430.97 622.49M430.97 614.72L430.97 625.60M445.65 609.28L445.65 625.60M445.65 617.05L444.11 615.50L442.56 614.72L440.25 614.72L438.70 615.50L437.15 617.05L436.38 619.38L436.38 620.94L437.15 623.27L438.70 624.82L440.25 625.60L442.56 625.60L444.11 624.82L445.65 623.27M451.06 619.38L460.33 619.38L460.33 617.83L459.56 616.28L458.78 615.50L457.24 614.72L454.92 614.72L453.38 615.50L451.83 617.05L451.06 619.38L451.06 620.94L451.83 623.27L453.38 624.82L454.92 625.60L457.24 625.60L458.78 624.82L460.33 623.27" stroke-width="1.4"/>
<path class="t" d="M376.90 1235.68L376.90 1252.00M391.58 1241.12L391.58 1252.00M391.58 1243.45L390.03 1241.90L388.49 1241.12L386.17 1241.12L384.62 1241.90L383.08 1243.45L382.31 1245.78L382.31 1247.34L383.08 1249.67L384.62 1251.22L386.17 1252.00L388.49 1252.00L390.03 1251.22L391.58 1249.67M398.53 1235.68L398.53 1248.89L399.30 1251.22L400.85 1252.00L402.39 1252.00M396.21 1241.12L401.62 1241.12M406.25 1235.68L407.03 1236.46L407.80 1235.68L407.03 1234.91L406.25 1235.68M407.03 1241.12L407.03 1252.00M413.98 1235.68L413.98 1248.89L414.75 1251.22L416.30 1252.00L417.84 1252.00M411.66 1241.12L417.07 1241.12M422.48 1241.12L422.48 1248.89L423.25 1251.22L424.79 1252.00L427.11 1252.00L428.66 1251.22L430.97 1248.89M430.97 1241.12L430.97 1252.00M445.65 1235.68L445.65 1252.00M445.65 1243.45L444.11 1241.90L442.56 1241.12L440.25 1241.12L438.70 1241.90L437.15 1243.45L436.38 1245.78L436.38 1247.34L437.15 1249.67L438.70 1251.22L440.25 1252.00L442.56 1252.00L444.11 1251.22L445.65 1249.67M451.06 1245.78L460.33 1245.78L460.33 1244.23L459.56 1242.68L458.78 1241.90L457.24 1241.12L454.92 1241.12L453.38 1241.90L451.83 1243.45L451.06 1245.78L451.06 1247.34L451.83 1249.67L453.38 1251.22L454.92 1252.00L457.24 1252.00L458.78 1251.22L460.33 1249.67" stroke-width="1.4"/>
<path class="t" d="M90.68 477.00L107.00 477.00M90.68 477.00L90.68 470.05L91.46 467.73L92.24 466.96L93.79 466.19L96.12 466.19L97.68 466.96L98.45 467.73L99.23 470.05L99.23 477.00M96.12 460.78L107.00 460.78M100.78 460.78L98.45 460.00L96.90 458.46L96.12 456.92L96.12 454.60M100.78 451.51L100.78 442.24L99.23 442.24L97.68 443.01L96.90 443.78L96.12 445.33L96.12 447.64L96.90 449.19L98.45 450.74L100.78 451.51L102.34 451.51L104.67 450.74L106.22 449.19L107.00 447.64L107.00 445.33L106.22 443.78L104.67 442.24M98.45 428.33L96.90 429.88L96.12 431.42L96.12 433.74L96.90 435.29L98.45 436.83L100.78 437.60L102.34 437.60L104.67 436.83L106.22 435.29L107.00 433.74L107.00 431.42L106.22 429.88L104.67 428.33M90.68 423.70L91.46 422.93L90.68 422.15L89.91 422.93L90.68 423.70M96.12 422.93L107.00 422.93M96.12 416.75L112.44 416.75M98.45 416.75L96.90 415.20L96.12 413.65L96.12 411.34L96.90 409.79L98.45 408.25L100.78 407.48L102.34 407.48L104.67 408.25L106.22 409.79L107.00 411.34L107.00 413.65L106.22 415.20L104.67 416.75M90.68 402.84L91.46 402.07L90.68 401.30L89.91 402.07L90.68 402.84M96.12 402.07L107.00 402.07M90.68 395.12L103.89 395.12L106.22 394.34L107.00 392.80L107.00 391.25M96.12 397.43L96.12 392.02M96.12 378.12L107.00 378.12M98.45 378.12L96.90 379.67L96.12 381.21L96.12 383.53L96.90 385.07L98.45 386.62L100.78 387.39L102.34 387.39L104.67 386.62L106.22 385.07L107.00 383.53L107.00 381.21L106.22 379.67L104.67 378.12M90.68 371.17L103.89 371.17L106.22 370.39L107.00 368.85L107.00 367.31M96.12 373.49L96.12 368.08M90.68 363.44L91.46 362.67L90.68 361.90L89.91 362.67L90.68 363.44M96.12 362.67L107.00 362.67M96.12 353.40L96.90 354.94L98.45 356.49L100.78 357.26L102.34 357.26L104.67 356.49L106.22 354.94L107.00 353.40L107.00 351.08L106.22 349.54L104.67 347.99L102.34 347.22L100.78 347.22L98.45 347.99L96.90 349.54L96.12 351.08L96.12 353.40M96.12 341.81L107.00 341.81M99.23 341.81L96.90 339.50L96.12 337.95L96.12 335.63L96.90 334.09L99.23 333.31L107.00 333.31M96.12 316.17L107.00 316.17M100.78 316.17L98.45 315.39L96.90 313.85L96.12 312.30L96.12 309.99M96.12 297.63L107.00 297.63M98.45 297.63L96.90 299.17L96.12 300.72L96.12 303.03L96.90 304.58L98.45 306.12L100.78 306.90L102.34 306.90L104.67 306.12L106.22 304.58L107.00 303.03L107.00 300.72L106.22 299.17L104.67 297.63M90.68 290.67L103.89 290.67L106.22 289.90L107.00 288.36L107.00 286.81M96.12 292.99L96.12 287.58M100.78 282.95L100.78 273.68L99.23 273.68L97.68 274.45L96.90 275.22L96.12 276.77L96.12 279.09L96.90 280.63L98.45 282.18L100.78 282.95L102.34 282.95L104.67 282.18L106.22 280.63L107.00 279.09L107.00 276.77L106.22 275.22L104.67 273.68M87.58 251.04L89.13 252.59L91.46 254.13L94.57 255.68L98.45 256.45L101.56 256.45L105.45 255.68L108.55 254.13L110.89 252.59L112.44 251.04M96.12 245.64L107.00 245.64M99.23 245.64L96.90 243.32L96.12 241.77L96.12 239.46L96.90 237.91L99.23 237.14L107.00 237.14M99.23 237.14L96.90 234.82L96.12 233.28L96.12 230.96L96.90 229.41L99.23 228.64L107.00 228.64M96.12 222.46L107.00 222.46M99.23 222.46L96.90 220.14L96.12 218.60L96.12 216.28L96.90 214.74L99.23 213.96L107.00 213.96M99.23 213.96L96.90 211.65L96.12 210.10L96.12 207.78L96.90 206.24L99.23 205.47L107.00 205.47M87.58 186.93L112.44 200.83M90.68 173.79L107.00 173.79M98.45 173.79L96.90 175.34L96.12 176.88L96.12 179.20L96.90 180.75L98.45 182.29L100.78 183.06L102.34 183.06L104.67 182.29L106.22 180.75L107.00 179.20L107.00 176.88L106.22 175.34L104.67 173.79M96.12 159.12L107.00 159.12M98.45 159.12L96.90 160.66L96.12 162.21L96.12 164.52L96.90 166.07L98.45 167.61L100.78 168.39L102.34 168.39L104.67 167.61L106.22 166.07L107.00 164.52L107.00 162.21L106.22 160.66L104.67 159.12M96.12 154.48L107.00 149.85M96.12 145.21L107.00 149.85L110.11 151.39L111.66 152.94L112.44 154.48L112.44 155.25M87.58 141.35L89.13 139.80L91.46 138.26L94.57 136.71L98.45 135.94L101.56 135.94L105.45 136.71L108.55 138.26L110.89 139.80L112.44 141.35" stroke-width="1.4"/>
<path class="t" d="M61.68 1103.30L78.00 1103.30M61.68 1103.30L61.68 1096.35L62.46 1094.03L63.24 1093.26L64.79 1092.48L67.12 1092.48L68.68 1093.26L69.45 1094.03L70.23 1096.35L70.23 1103.30M67.12 1087.08L78.00 1087.08M71.78 1087.08L69.45 1086.31L67.90 1084.76L67.12 1083.21L67.12 1080.90M71.78 1077.81L71.78 1068.54L70.23 1068.54L68.68 1069.31L67.90 1070.08L67.12 1071.63L67.12 1073.94L67.90 1075.49L69.45 1077.03L71.78 1077.81L73.34 1077.81L75.67 1077.03L77.22 1075.49L78.00 1073.94L78.00 1071.63L77.22 1070.08L75.67 1068.54M69.45 1054.63L67.90 1056.18L67.12 1057.72L67.12 1060.04L67.90 1061.59L69.45 1063.13L71.78 1063.90L73.34 1063.90L75.67 1063.13L77.22 1061.59L78.00 1060.04L78.00 1057.72L77.22 1056.18L75.67 1054.63M61.68 1050.00L62.46 1049.22L61.68 1048.45L60.91 1049.22L61.68 1050.00M67.12 1049.22L78.00 1049.22M67.12 1043.05L83.44 1043.05M69.45 1043.05L67.90 1041.50L67.12 1039.95L67.12 1037.64L67.90 1036.09L69.45 1034.55L71.78 1033.77L73.34 1033.77L75.67 1034.55L77.22 1036.09L78.00 1037.64L78.00 1039.95L77.22 1041.50L75.67 1043.05M61.68 1029.14L62.46 1028.37L61.68 1027.60L60.91 1028.37L61.68 1029.14M67.12 1028.37L78.00 1028.37M61.68 1021.41L74.89 1021.41L77.22 1020.64L78.00 1019.10L78.00 1017.55M67.12 1023.73L67.12 1018.32M67.12 1004.42L78.00 1004.42M69.45 1004.42L67.90 1005.96L67.12 1007.51L67.12 1009.83L67.90 1011.37L69.45 1012.92L71.78 1013.69L73.34 1013.69L75.67 1012.92L77.22 1011.37L78.00 1009.83L78.00 1007.51L77.22 1005.96L75.67 1004.42M61.68 997.47L74.89 997.47L77.22 996.69L78.00 995.15L78.00 993.61M67.12 999.78L67.12 994.38M61.68 989.74L62.46 988.97L61.68 988.20L60.91 988.97L61.68 989.74M67.12 988.97L78.00 988.97M67.12 979.70L67.90 981.25L69.45 982.79L71.78 983.56L73.34 983.56L75.67 982.79L77.22 981.25L78.00 979.70L78.00 977.38L77.22 975.84L75.67 974.29L73.34 973.52L71.78 973.52L69.45 974.29L67.90 975.84L67.12 977.38L67.12 979.70M67.12 968.11L78.00 968.11M70.23 968.11L67.90 965.79L67.12 964.25L67.12 961.93L67.90 960.39L70.23 959.62L78.00 959.62M67.12 942.47L78.00 942.47M71.78 942.47L69.45 941.69L67.90 940.15L67.12 938.60L67.12 936.29M67.12 923.93L78.00 923.93M69.45 923.93L67.90 925.47L67.12 927.02L67.12 929.33L67.90 930.88L69.45 932.42L71.78 933.20L73.34 933.20L75.67 932.42L77.22 930.88L78.00 929.33L78.00 927.02L77.22 925.47L75.67 923.93M61.68 916.97L74.89 916.97L77.22 916.20L78.00 914.66L78.00 913.11M67.12 919.29L67.12 913.88M71.78 909.25L71.78 899.98L70.23 899.98L68.68 900.75L67.90 901.52L67.12 903.07L67.12 905.39L67.90 906.93L69.45 908.48L71.78 909.25L73.34 909.25L75.67 908.48L77.22 906.93L78.00 905.39L78.00 903.07L77.22 901.52L75.67 899.98M58.58 877.34L60.13 878.89L62.46 880.43L65.57 881.98L69.45 882.75L72.56 882.75L76.45 881.98L79.55 880.43L81.89 878.89L83.44 877.34M67.12 871.94L78.00 871.94M70.23 871.94L67.90 869.62L67.12 868.07L67.12 865.76L67.90 864.21L70.23 863.44L78.00 863.44M70.23 863.44L67.90 861.12L67.12 859.58L67.12 857.26L67.90 855.71L70.23 854.94L78.00 854.94M67.12 848.76L78.00 848.76M70.23 848.76L67.90 846.44L67.12 844.90L67.12 842.58L67.90 841.04L70.23 840.26L78.00 840.26M70.23 840.26L67.90 837.95L67.12 836.40L67.12 834.08L67.90 832.54L70.23 831.77L78.00 831.77M58.58 813.23L83.44 827.13M61.68 800.09L78.00 800.09M69.45 800.09L67.90 801.64L67.12 803.18L67.12 805.50L67.90 807.05L69.45 808.59L71.78 809.36L73.34 809.36L75.67 808.59L77.22 807.05L78.00 805.50L78.00 803.18L77.22 801.64L75.67 800.09M67.12 785.42L78.00 785.42M69.45 785.42L67.90 786.96L67.12 788.51L67.12 790.82L67.90 792.37L69.45 793.91L71.78 794.69L73.34 794.69L75.67 793.91L77.22 792.37L78.00 790.82L78.00 788.51L77.22 786.96L75.67 785.42M67.12 780.78L78.00 776.15M67.12 771.51L78.00 776.15L81.11 777.69L82.66 779.24L83.44 780.78L83.44 781.55M58.58 767.65L60.13 766.10L62.46 764.56L65.57 763.01L69.45 762.24L72.56 762.24L76.45 763.01L79.55 764.56L81.89 766.10L83.44 767.65" stroke-width="1.4"/>
<path class="t" d="M95.00 1175.97L108.90 1175.97M115.08 1170.53L115.08 1169.75L115.86 1168.20L116.63 1167.42L118.17 1166.64L121.26 1166.64L122.81 1167.42L123.58 1168.20L124.35 1169.75L124.35 1171.30L123.58 1172.86L122.04 1175.19L114.31 1182.96L125.13 1182.96M131.31 1181.40L130.53 1182.18L131.31 1182.96L132.08 1182.18L131.31 1181.40M142.12 1166.64L139.80 1167.42L138.26 1169.75L137.49 1173.63L137.49 1175.97L138.26 1179.85L139.80 1182.18L142.12 1182.96L143.67 1182.96L145.98 1182.18L147.53 1179.85L148.30 1175.97L148.30 1173.63L147.53 1169.75L145.98 1167.42L143.67 1166.64L142.12 1166.64" stroke-width="1.4"/>
<path class="t" d="M95.00 1054.94L108.90 1054.94M116.63 1048.72L118.17 1047.95L120.49 1045.62L120.49 1061.93M131.31 1060.38L130.53 1061.16L131.31 1061.93L132.08 1061.16L131.31 1060.38M142.12 1045.62L139.80 1046.39L138.26 1048.72L137.49 1052.61L137.49 1054.94L138.26 1058.83L139.80 1061.16L142.12 1061.93L143.67 1061.93L145.98 1061.16L147.53 1058.83L148.30 1054.94L148.30 1052.61L147.53 1048.72L145.98 1046.39L143.67 1045.62L142.12 1045.62" stroke-width="1.4"/>
<path class="t" d="M118.95 924.59L116.63 925.37L115.08 927.70L114.31 931.58L114.31 933.92L115.08 937.80L116.63 940.13L118.95 940.91L120.49 940.91L122.81 940.13L124.35 937.80L125.13 933.92L125.13 931.58L124.35 927.70L122.81 925.37L120.49 924.59L118.95 924.59M131.31 939.35L130.53 940.13L131.31 940.91L132.08 940.13L131.31 939.35M142.12 924.59L139.80 925.37L138.26 927.70L137.49 931.58L137.49 933.92L138.26 937.80L139.80 940.13L142.12 940.91L143.67 940.91L145.98 940.13L147.53 937.80L148.30 933.92L148.30 931.58L147.53 927.70L145.98 925.37L143.67 924.59L142.12 924.59" stroke-width="1.4"/>
<path class="t" d="M116.63 806.67L118.17 805.90L120.49 803.57L120.49 819.88M131.31 818.33L130.53 819.11L131.31 819.88L132.08 819.11L131.31 818.33M142.12 803.57L139.80 804.34L138.26 806.67L137.49 810.56L137.49 812.89L138.26 816.78L139.80 819.11L142.12 819.88L143.67 819.88L145.98 819.11L147.53 816.78L148.30 812.89L148.30 810.56L147.53 806.67L145.98 804.34L143.67 803.57L142.12 803.57" stroke-width="1.4"/>
<path class="t" d="M115.08 686.43L115.08 685.65L115.86 684.10L116.63 683.32L118.17 682.54L121.26 682.54L122.81 683.32L123.58 684.10L124.35 685.65L124.35 687.20L123.58 688.76L122.04 691.09L114.31 698.86L125.13 698.86M131.31 697.30L130.53 698.08L131.31 698.86L132.08 698.08L131.31 697.30M142.12 682.54L139.80 683.32L138.26 685.65L137.49 689.53L137.49 691.87L138.26 695.75L139.80 698.08L142.12 698.86L143.67 698.86L145.98 698.08L147.53 695.75L148.30 691.87L148.30 689.53L147.53 685.65L145.98 683.32L143.67 682.54L142.12 682.54" stroke-width="1.4"/>
</svg></body></html>
